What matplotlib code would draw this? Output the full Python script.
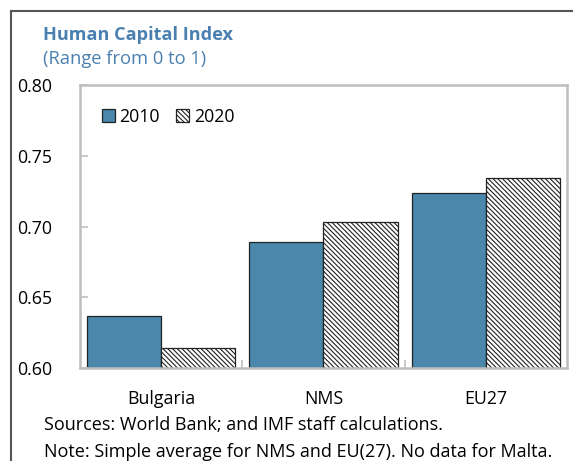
import matplotlib
matplotlib.use("Agg")
import matplotlib.pyplot as plt
import numpy as np
from matplotlib.lines import Line2D

plt.rcParams['font.family'] = ['Open Sans', 'DejaVu Sans']
plt.rcParams['hatch.linewidth'] = 0.8

categories = ["Bulgaria", "NMS", "EU27"]
series_names = ["2010", "2020"]
values_2010 = [0.637, 0.689, 0.724]
values_2020 = [0.614, 0.703, 0.734]
yticks = [0.60, 0.65, 0.70, 0.75, 0.80]

blue = "#4A87AB"
title_color = "#4A80B0"
gray = "#BFBFBF"

fig = plt.figure(figsize=(5.73, 4.61), dpi=100)
ax = fig.add_axes([0.1396, 0.2017, 0.8499, 0.6139])

x = np.arange(len(categories))
w = 0.456
ax.bar(x - w / 2, values_2010, width=w, color=blue, edgecolor="#222222", linewidth=0.9, label=series_names[0])
ax.bar(x + w / 2, values_2020, width=w, color="white", edgecolor="#222222", linewidth=0.9,
       hatch="\\" * 7, label=series_names[1])

ax.set_xlim(-0.5, 2.5)
ax.set_ylim(0.60, 0.80)
ax.set_yticks(yticks)
ax.set_yticklabels([f"{v:.2f}" for v in yticks], fontsize=12.8)
ax.tick_params(axis="y", direction="in", length=6, width=1.2, color=gray, pad=20)
ax.set_xticks(x)
ax.set_xticklabels(categories, fontsize=12.8)
ax.tick_params(axis="x", which="major", length=0, pad=16)
ax.set_xticks([0.5, 1.5], minor=True)
ax.tick_params(axis="x", which="minor", direction="in", length=6, width=1.2, color=gray)
for s in ax.spines.values():
    s.set_color(gray)
    s.set_linewidth(1.8)

leg = ax.legend(loc="upper left", bbox_to_anchor=(0.012, 0.975), ncol=2, frameon=False, fontsize=12.8,
                handlelength=0.75, handleheight=0.75, handletextpad=0.25, columnspacing=0.9)

fig.text(0.075, 0.925, "Human Capital Index", fontsize=13.1, fontweight="bold", color=title_color, va="center")
fig.text(0.075, 0.872, "(Range from 0 to 1)", fontsize=13.2, color=title_color, va="center")
fig.text(0.077, 0.078, "Sources: World Bank; and IMF staff calculations.", fontsize=13, va="center")
fig.text(0.077, 0.019, "Note: Simple average for NMS and EU(27). No data for Malta.", fontsize=13, va="center")

fig.add_artist(Line2D([11 / 573, 11 / 573], [0, 1 - 11 / 461], color="#555555", linewidth=1.5, transform=fig.transFigure))
fig.add_artist(Line2D([11 / 573, 1], [1 - 11 / 461, 1 - 11 / 461], color="#555555", linewidth=1.5, transform=fig.transFigure))

fig.savefig("out.png", dpi=100)
